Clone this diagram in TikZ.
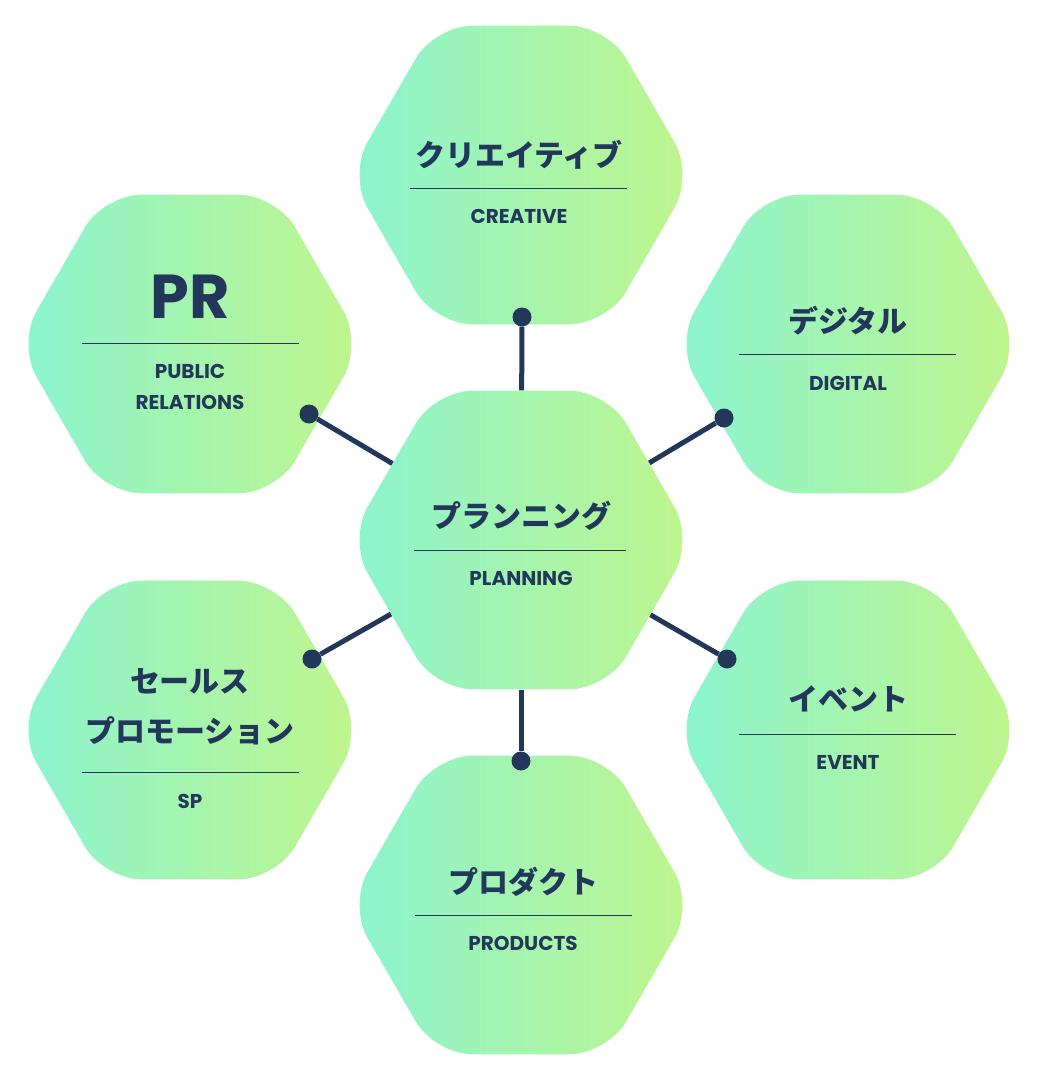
\documentclass[tikz,border=0pt]{standalone}
\usepackage{fontspec}
\setmainfont{Poppins}
\newfontfamily\jp{Noto Sans CJK JP}
\usetikzlibrary{shapes.geometric}
\definecolor{navy}{RGB}{35,55,90}
\definecolor{hexleft}{RGB}{138,244,208}
\definecolor{hexright}{RGB}{192,245,140}
\tikzset{
  hexa/.style={regular polygon, regular polygon sides=6, minimum size=345pt,
    rounded corners=38pt, left color=hexleft, right color=hexright, draw=none},
  jptext/.style={text=navy, font=\jp\bfseries\fontsize{30}{40}\selectfont, align=center},
  entext/.style={text=navy, font=\bfseries\fontsize{20}{31}\selectfont, align=center},
  rule/.style={draw=navy, line width=1pt},
  dot/.style={circle, fill=navy, inner sep=0pt, minimum size=19pt},
  link/.style={draw=navy, line width=5pt}
}
\begin{document}
\begin{tikzpicture}[x=1pt, y=-1pt]
    \useasboundingbox (0,0) rectangle (1041,1080);
    % Hexagons
    \node[hexa] (plan) at (521,540) {};
    \node[hexa] (crea) at (521,175) {};
    \node[hexa] (prod) at (521,905) {};
    \node[hexa] (pr) at (190,344) {};
    \node[hexa] (digi) at (848,344) {};
    \node[hexa] (sp) at (190,730) {};
    \node[hexa] (evnt) at (848,730) {};

    % Labels
    \node[jptext] (planjp) at (521,516) {プランニング};
    \draw[rule] (414,550) -- (626,550);
    \node[entext] (planen) at (521,578) {PLANNING};

    \node[jptext] (creajp) at (519,155) {クリエイティブ};
    \draw[rule] (410,188) -- (627,188);
    \node[entext] (creaen) at (519,216) {CREATIVE};

    \node[jptext] (prodjp) at (523,882) {プロダクト};
    \draw[rule] (415,915) -- (632,915);
    \node[entext] (proden) at (523,943) {PRODUCTS};

    \node[text=navy, font=\bfseries\fontsize{62}{62}\selectfont] (prjp) at (190,297) {PR};
    \draw[rule] (82,343) -- (299,343);
    \node[entext] (pren) at (190,387) {PUBLIC\\RELATIONS};

    \node[jptext] (digijp) at (848,321) {デジタル};
    \draw[rule] (739,354) -- (956,354);
    \node[entext] (digien) at (848,383) {DIGITAL};

    \node[jptext, font=\jp\bfseries\fontsize{30}{50}\selectfont] (spjp) at (190,707) {セールス\\プロモーション};
    \draw[rule] (82,772) -- (299,772);
    \node[entext] (spen) at (190,801) {SP};

    \node[jptext] (evntjp) at (848,699) {イベント};
    \draw[rule] (739,734) -- (956,734);
    \node[entext] (evnten) at (848,762) {EVENT};

    % Connectors
    \node[dot] (dcrea) at (522,317) {};
    \node[dot] (dprod) at (521,761) {};
    \node[dot] (dpr) at (309,414) {};
    \node[dot] (ddigi) at (724,418) {};
    \node[dot] (dsp) at (312,659) {};
    \node[dot] (devnt) at (727,659) {};
    \draw[link] (plan) -- (dcrea);
    \draw[link] (plan) -- (dprod);
    \draw[link] (plan) -- (dpr);
    \draw[link] (plan) -- (ddigi);
    \draw[link] (plan) -- (dsp);
    \draw[link] (plan) -- (devnt);
\end{tikzpicture}
\end{document}
